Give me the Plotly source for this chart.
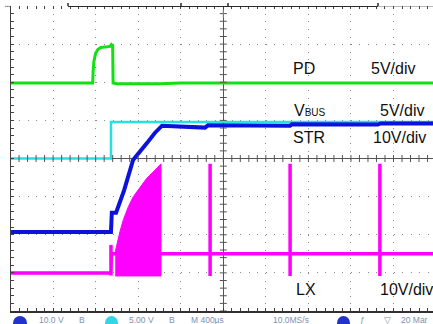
import numpy as np
import plotly.graph_objects as go

# ---------------- data: time in horizontal divisions from trigger, values in volts
pd_t = [-5.3, -3.07, -3.06, -3.04, -3.00, -2.95, -2.88, -2.75, -2.66, -2.63, -2.60, -2.59, -2.50, -1.50, -1.00, 5.0]
pd_v = [0.0, 0.0, 1.5, 2.9, 3.9, 4.4, 4.65, 4.75, 4.8, 5.05, 4.9, 0.0, -0.1, -0.1, 0.0, 0.0]

vbus_t = [-5.3, -2.64, -2.64, 5.0]
vbus_v = [0.0, 0.0, 4.8, 4.8]

str_t = [-5.3, -2.64, -2.62, -2.52, -2.33, -2.12, -1.79, -1.61, -1.44, -1.02, -0.43, -0.36, 1.57, 1.61, 3.63, 3.70, 5.0]
str_v = [0.2, 0.2, 5.3, 5.3, 11.2, 19.1, 23.6, 26.2, 28.1, 28.0, 27.6, 28.2, 28.1, 28.5, 28.4, 28.7, 28.7]

lx_t = [-5.3, -2.64, -2.64, -2.64, -2.63, -2.50, -1.46, -0.31, -0.31, -0.31, -0.31,
        1.57, 1.57, 1.57, 1.57, 3.68, 3.68, 3.68, 3.68, 5.0]
lx_v = [0.0, 0.0, 7.3, -0.7, 5.0, 5.0, 5.0, 5.0, 28.6, -0.8, 5.0,
        5.0, 28.6, -0.8, 5.0, 5.0, 28.6, -0.8, 5.0, 5.0]

burst_t = [-2.54, -2.505, -2.43, -2.35, -2.23, -2.115, -1.955, -1.80, -1.645, -1.464]
burst_top = [5.5, 7.3, 10.8, 13.9, 17.4, 20.0, 22.6, 24.8, 26.5, 28.6]
burst_bottom = -0.8

# ---------------- scope settings (offset in divisions, volts per division)
CH = {
    "PD": (1.98, 5.0),
    "VBUS": (0.0, 5.0),
    "STR": (-1.95, 10.0),
    "LX": (-3.0, 10.0),
}


def to_div(name, volts):
    off, sc = CH[name]
    return [off + v / sc for v in volts]


W, H = 433, 324
PLOT_L, PLOT_T, PLOT_B = 10.55, 6.0, 311.0
PX_DIV = 42.55


def xp(px):
    return px / W


def yp(py):
    return 1 - py / H


COL = {"PD": "#12e012", "VBUS": "#22e2e2", "STR": "#0a12dc", "LX": "#ff00ff"}

fig = go.Figure()

fig.add_trace(go.Scatter(x=pd_t, y=to_div("PD", pd_v), mode="lines",
                         line=dict(color=COL["PD"], width=3), hoverinfo="skip"))
fig.add_trace(go.Scatter(x=vbus_t, y=to_div("VBUS", vbus_v), mode="lines",
                         line=dict(color=COL["VBUS"], width=2.5), hoverinfo="skip"))
fig.add_trace(go.Scatter(x=str_t, y=to_div("STR", str_v), mode="lines",
                         line=dict(color=COL["STR"], width=4), hoverinfo="skip"))
poly_t = burst_t + [burst_t[-1], burst_t[0]]
poly_v = burst_top + [burst_bottom, burst_bottom]
fig.add_trace(go.Scatter(x=poly_t, y=to_div("LX", poly_v), mode="lines", fill="toself",
                         fillcolor=COL["LX"], line=dict(color=COL["LX"], width=1), hoverinfo="skip"))
fig.add_trace(go.Scatter(x=lx_t, y=to_div("LX", lx_v), mode="lines",
                         line=dict(color=COL["LX"], width=3.5), hoverinfo="skip"))

# center-axis tick marks
hx = np.arange(-5, 5.01, 0.2)
vy = np.arange(-4, 4.01, 0.2)
fig.add_trace(go.Scatter(x=hx, y=np.zeros_like(hx), mode="markers", hoverinfo="skip",
                         marker=dict(symbol="line-ns", size=5, line=dict(width=1, color="#555555"))))
fig.add_trace(go.Scatter(x=np.zeros_like(vy), y=vy, mode="markers", hoverinfo="skip",
                         marker=dict(symbol="line-ew", size=5, line=dict(width=1, color="#555555"))))

# ground markers on the left
gx = -5 - 5.3 / PX_DIV
fig.add_trace(go.Scatter(x=[gx, gx, gx], y=[CH["PD"][0], CH["STR"][0], CH["LX"][0]],
                         mode="markers", cliponaxis=False, hoverinfo="skip",
                         marker=dict(symbol="triangle-right", size=13, color="#8c8c8c")))
fig.add_trace(go.Scatter(x=[gx], y=[CH["VBUS"][0]], mode="markers", cliponaxis=False, hoverinfo="skip",
                         marker=dict(symbol="triangle-right", size=13, color="#86ecec")))
# trigger position marker
fig.add_trace(go.Scatter(x=[0.0], y=[4.02], mode="markers", cliponaxis=False, hoverinfo="skip",
                         marker=dict(symbol="triangle-down", size=8, color="#f5a000")))
# invisible trace for top axis
fig.add_trace(go.Scatter(x=[0], y=[0], xaxis="x2", mode="markers", hoverinfo="skip",
                         marker=dict(opacity=0)))

dom_x = [PLOT_L / W, 1.0]
dom_y = [1 - PLOT_B / H, 1 - PLOT_T / H]
x_right = -5 + (W - PLOT_L) / PX_DIV

tick_common = dict(showticklabels=False, ticks="inside", ticklen=3, tickwidth=1, tickcolor="#404040")

fig.update_layout(
    width=W, height=H, autosize=False,
    margin=dict(l=0, r=0, t=0, b=0, pad=0),
    paper_bgcolor="white", plot_bgcolor="white",
    showlegend=False,
    xaxis=dict(domain=dom_x, range=[-5, x_right], dtick=1, tick0=0,
               showgrid=True, gridcolor="#888888", gridwidth=1, griddash="1px,6.625px",
               zeroline=True, zerolinecolor="#555555", zerolinewidth=1,
               showline=True, linecolor="#303030", linewidth=2,
               minor=dict(dtick=0.2, tick0=0, ticks="inside", ticklen=3, tickcolor="#404040", showgrid=False),
               **tick_common),
    xaxis2=dict(domain=dom_x, range=[-5, x_right], overlaying="x", side="top", anchor="y",
                dtick=1, tick0=0, showgrid=False, zeroline=False, showline=False,
                minor=dict(dtick=0.2, tick0=0, ticks="inside", ticklen=3, tickcolor="#404040", showgrid=False),
                **tick_common),
    yaxis=dict(domain=dom_y, range=[-4, 4], dtick=1, tick0=0,
               showgrid=True, gridcolor="#888888", gridwidth=1, griddash="1px,7.51px",
               zeroline=True, zerolinecolor="#555555", zerolinewidth=1,
               showline=True, linecolor="#404040", linewidth=1,
               minor=dict(dtick=0.2, tick0=0, ticks="inside", ticklen=3, tickcolor="#404040", showgrid=False),
               **tick_common),
)


def xd(px):
    return (px - (PLOT_L + 5 * PX_DIV)) / PX_DIV


# top record bar
shapes = [
    dict(type="line", xref="x", yref="y", x0=xd(68), x1=xd(378), y0=4, y1=4,
         line=dict(color="#2a2a2a", width=2)),
    dict(type="line", xref="x", yref="y", x0=xd(378), x1=xd(433), y0=4, y1=4,
         line=dict(color="#707070", width=1)),
]
for px in (68, 181, 228, 378):
    shapes.append(dict(type="line", xref="x", yref="paper", x0=xd(px), x1=xd(px),
                       y0=yp(6), y1=yp(3), line=dict(color="#2a2a2a", width=1.5)))
shapes.append(dict(type="line", xref="x", yref="paper", x0=0, x1=0, y0=yp(10), y1=yp(18),
                   line=dict(color="#888888", width=1)))
# status bar channel badges
for x0, x1, c in ((13, 27, "#2233cc"), (105, 118, "#33d6e6"), (337, 350, "#2233cc")):
    shapes.append(dict(type="circle", xref="paper", yref="paper", x0=xp(x0), x1=xp(x1),
                       y0=yp(330), y1=yp(316), fillcolor=c, line=dict(width=0)))
fig.update_layout(shapes=shapes)

FONT = "Liberation Sans, Arial, sans-serif"
labels = [
    ("PD", 292, 68), ("5V/div", 370, 68),
    ("V<span style='font-size:10px'>BUS</span>", 293, 111), ("5V/div", 379, 111),
    ("STR", 292, 137), ("10V/div", 372, 137),
    ("LX", 295, 289.5), ("10V/div", 379, 289.5),
]
ann = []
for txt, px, py in labels:
    ann.append(dict(text=txt, x=xp(px - 1), y=yp(py), xref="paper", yref="paper",
                    xanchor="left", yanchor="middle", showarrow=False,
                    font=dict(family=FONT, size=16, color="#111111")))
status = [("10.0 V", 38), ("B", 78), ("5.00 V", 128), ("B", 168), ("M 400µs", 190),
          ("10.0MS/s", 272), ("ƒ", 359), ("▽", 383), ("20 Mar", 400)]
for txt, px in status:
    ann.append(dict(text=txt, x=xp(px - 1), y=yp(312.5), xref="paper", yref="paper",
                    xanchor="left", yanchor="top", showarrow=False,
                    font=dict(family=FONT, size=8.5, color="#8090b4")))
ann.append(dict(text="▪▪▪", x=xp(3), y=yp(1), xref="paper", yref="paper", xanchor="left",
                yanchor="top", showarrow=False, font=dict(family=FONT, size=5, color="#777777")))
fig.update_layout(annotations=ann)

fig.write_html("out.html")
